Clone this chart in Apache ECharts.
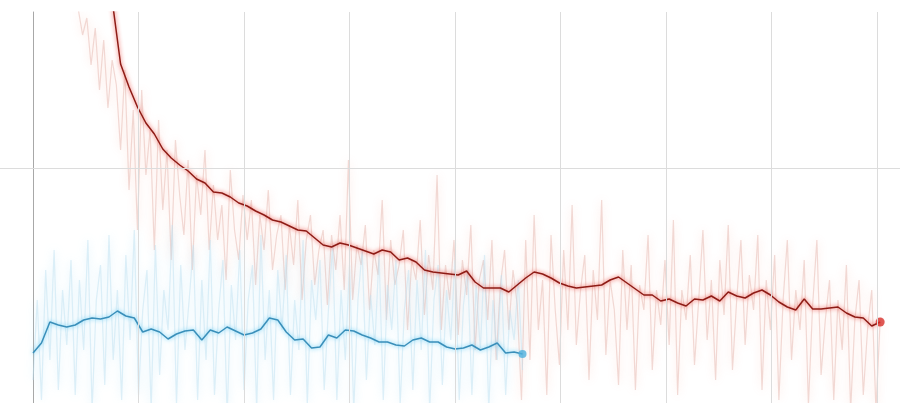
<!DOCTYPE html>
<html><head><meta charset="utf-8">
<script src="https://cdn.jsdelivr.net/npm/echarts@6/dist/echarts.min.js"></script>
<style>html,body{margin:0;padding:0;background:#fff}#c{width:900px;height:403px}</style>
</head><body><div id="c"></div>
<script>
// x: training step, sampled at fixed step spacing per series
const redRawStart = 430, redRawEvery = 40;
const redRaw = [
5.58,5.33,5.50,5.03,5.40,4.78,5.28,4.60,5.08,4.83,
4.18,4.98,3.78,4.58,3.38,4.78,3.93,4.38,3.18,4.48,
3.58,4.18,3.08,4.28,3.73,3.33,4.08,2.98,3.93,3.53,
4.18,3.18,3.83,3.28,3.63,2.88,3.98,3.38,3.08,3.73,
3.28,3.68,2.83,3.53,3.18,3.78,2.98,3.33,3.53,2.78,
3.43,3.03,3.68,2.68,3.28,3.53,2.83,3.18,3.38,2.63,
3.33,2.98,3.53,2.78,4.08,2.68,3.23,3.03,3.43,2.58,
3.18,2.93,3.68,2.48,3.28,2.83,3.03,3.38,2.38,3.08,
2.88,3.48,2.53,3.13,2.78,3.93,2.38,3.03,2.68,3.28,
2.33,3.08,2.73,3.43,2.18,2.88,3.08,2.48,3.28,2.08,
2.83,3.18,2.38,2.98,2.63,1.68,3.28,2.08,3.53,2.38,
2.88,1.73,3.33,2.58,2.03,3.18,2.38,3.63,2.23,2.78,
3.13,1.88,2.98,2.48,3.68,2.13,2.88,2.58,1.83,3.18,
2.38,3.03,1.78,2.83,2.58,3.33,1.98,2.78,2.43,3.08,
2.23,3.48,1.73,2.78,2.48,3.13,2.03,2.68,3.38,2.28,
2.88,1.88,3.08,2.53,3.43,1.98,2.68,3.28,2.23,2.93,
2.58,3.33,1.78,2.88,2.38,3.13,1.68,2.68,3.28,2.08,
2.78,2.38,3.08,1.63,2.63,3.28,1.93,2.48,2.88,1.68,
2.68,2.18,3.03,1.58,2.48,2.88,1.73,2.38,2.78,1.58,
2.48
];
const redSmoothStart = 750, redSmoothEvery = 80;
const redSmooth = [
5.68,5.04,4.81,4.61,4.45,4.34,4.19,4.10,4.03,3.97,
3.89,3.85,3.76,3.75,3.71,3.65,3.62,3.57,3.53,3.48,
3.46,3.42,3.38,3.37,3.30,3.23,3.21,3.25,3.23,3.20,
3.17,3.14,3.18,3.16,3.08,3.10,3.06,2.98,2.96,2.95,
2.94,2.93,2.97,2.86,2.80,2.80,2.80,2.76,2.83,2.90,
2.96,2.94,2.90,2.85,2.82,2.80,2.81,2.82,2.83,2.88,
2.91,2.85,2.79,2.73,2.73,2.67,2.69,2.65,2.62,2.69,
2.68,2.72,2.67,2.76,2.72,2.70,2.75,2.78,2.73,2.66,
2.61,2.58,2.69,2.59,2.59,2.60,2.61,2.55,2.51,2.50,
2.42,2.46
];
const blueRawStart = 0, blueRawEvery = 40;
const blueRaw = [
1.88,2.68,1.68,2.98,2.08,3.18,1.78,2.78,2.23,3.08,
1.73,2.88,2.18,3.28,1.58,2.68,3.03,1.83,3.33,2.08,
2.78,1.68,3.13,2.28,3.38,1.73,2.58,2.98,1.58,3.23,
1.93,2.78,2.38,3.43,1.63,3.03,2.18,2.68,3.23,1.68,
2.88,2.08,3.28,1.73,2.58,3.08,1.53,2.83,2.28,3.18,
1.78,2.68,3.03,1.58,3.33,2.08,2.78,1.68,2.98,2.38,
3.13,1.73,2.68,2.18,3.28,1.63,2.88,2.48,3.08,1.78,
2.58,3.23,1.68,2.78,2.08,3.03,1.58,2.68,3.18,1.88,
2.73,2.23,3.13,1.68,2.83,2.38,3.08,1.63,2.58,2.98,
1.78,2.88,2.18,3.18,1.58,2.68,3.03,1.83,2.78,2.28,
3.08,1.68,2.63,2.98,1.73,2.83,2.18,3.13,1.58,2.68,
2.08,2.93,1.73,2.58,2.28,2.88,1.98
];
const blueSmoothStart = 0, blueSmoothEvery = 80;
const blueSmooth = [
2.15,2.25,2.46,2.43,2.41,2.43,2.48,2.50,2.49,2.51,
2.57,2.52,2.50,2.36,2.39,2.36,2.29,2.34,2.37,2.38,
2.28,2.38,2.35,2.41,2.37,2.33,2.35,2.39,2.50,2.48,
2.36,2.28,2.29,2.20,2.21,2.33,2.30,2.38,2.37,2.33,
2.30,2.26,2.26,2.23,2.22,2.28,2.30,2.26,2.26,2.21,
2.19,2.20,2.23,2.18,2.21,2.25,2.15,2.16,2.14
];
// visible axis range and grid-line positions
const xMin = -313, xMax = 8218;
const yMin = 1.65, yMax = 5.56;
const xGridSteps = [1000, 2000, 3000, 4000, 5000, 6000, 7000, 8000];
const yGridValues = [4];

function pairs(arr, start, every) { return arr.map((v, i) => [start + i * every, v]); }
const redRawData = pairs(redRaw, redRawStart, redRawEvery);
const redSmoothData = pairs(redSmooth, redSmoothStart, redSmoothEvery);
const blueRawData = pairs(blueRaw, blueRawStart, blueRawEvery);
const blueSmoothData = pairs(blueSmooth, blueSmoothStart, blueSmoothEvery);

const gridLines = xGridSteps.map(v => ({ xAxis: v })).concat(yGridValues.map(v => ({ yAxis: v })));

const chart = echarts.init(document.getElementById('c'), null, { renderer: 'canvas' });
chart.setOption({
  animation: false,
  backgroundColor: '#ffffff',
  grid: { left: 0, right: 0, top: 12, bottom: 0, containLabel: false },
  xAxis: {
    type: 'value', min: xMin, max: xMax,
    axisLine: { show: false }, axisTick: { show: false }, axisLabel: { show: false },
    splitLine: { show: false }
  },
  yAxis: {
    type: 'value', min: yMin, max: yMax,
    axisLine: { show: true, onZero: true, lineStyle: { color: '#a8a8a8', width: 1 } },
    axisTick: { show: false }, axisLabel: { show: false },
    splitLine: { show: false }
  },
  series: [
    { type: 'line', data: [], silent: true, z: 0,
      markLine: { silent: true, symbol: ['none', 'none'], animation: false,
        label: { show: false }, emphasis: { disabled: true },
        lineStyle: { color: '#dcdcdc', width: 1, type: 'solid' },
        data: gridLines } },
    { type: 'line', data: redRawData, showSymbol: false, silent: true,
      lineStyle: { color: '#e2b0a6', width: 1.2, opacity: 0.45,
        shadowBlur: 8, shadowColor: 'rgba(250,160,140,0.7)' }, z: 1 },
    { type: 'line', data: blueRawData, showSymbol: false, silent: true,
      lineStyle: { color: '#bfe2f2', width: 1.2, opacity: 0.5,
        shadowBlur: 8, shadowColor: 'rgba(150,215,245,0.8)' }, z: 1 },
    { type: 'line', data: redSmoothData, showSymbol: false, silent: true,
      lineStyle: { color: '#8e1c16', width: 1.5, shadowBlur: 4, shadowColor: 'rgba(235,50,40,0.9)' }, z: 3 },
    { type: 'line', data: blueSmoothData, showSymbol: false, silent: true,
      lineStyle: { color: '#3a8fba', width: 1.5, shadowBlur: 4, shadowColor: 'rgba(80,200,245,0.9)' }, z: 3 },
    { type: 'scatter', silent: true, symbolSize: 9, z: 4,
      data: [redSmoothData[redSmoothData.length - 1]], itemStyle: { color: '#d7302a' } },
    { type: 'scatter', silent: true, symbolSize: 8, z: 4,
      data: [blueSmoothData[blueSmoothData.length - 1]], itemStyle: { color: '#4fb0dd' } }
  ]
});
</script>
</body></html>
